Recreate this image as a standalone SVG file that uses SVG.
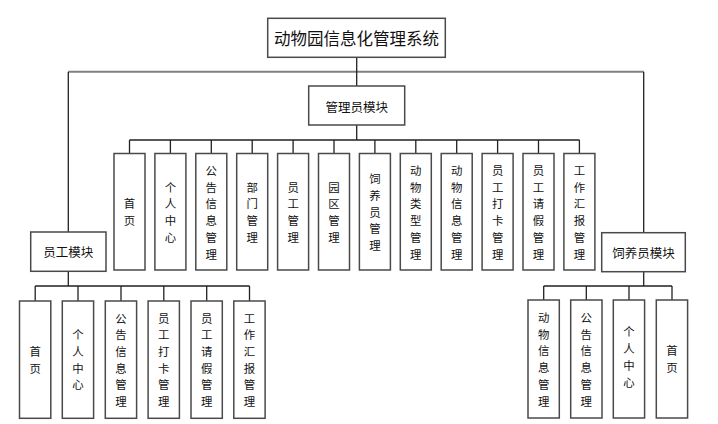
<svg xmlns="http://www.w3.org/2000/svg" width="718" height="424" viewBox="0 0 718 424">
<style>
.box{fill:#fff;stroke:#4a4a4a;stroke-width:1.5}
.ln{fill:none;stroke:#222;stroke-width:1.3}
.gl{fill:none;stroke:#808080;stroke-width:2}
text{font-family:"Noto Sans CJK SC","Noto Sans",sans-serif;fill:#111;text-anchor:middle;dominant-baseline:central}
.t{font-size:16.5px}
.m{font-size:12.5px}
.v{font-size:11.4px}
</style>
<rect width="718" height="424" fill="#fff"/>
<g id="connectors">
<path class="gl" d="M68.3,71.7H643.7"/>
<path class="ln" d="M356.7,57.3V86M68.3,71.7V232M643.7,71.7V232.7M356.7,125V140"/>
<path class="ln" d="M129.5,140H579.5M129.5,140v13.5M170.4,140v13.5M211.3,140v13.5M252.2,140v13.5M293.1,140v13.5M334,140v13.5M374.9,140v13.5M415.8,140v13.5M456.7,140v13.5M497.6,140v13.5M538.5,140v13.5M579.4,140v13.5"/>
<path class="ln" d="M68.3,271.3V286M35.2,286H249.5M35.2,286v15M78,286v15M121,286v15M163.8,286v15M206.7,286v15M249.5,286v15"/>
<path class="ln" d="M643.7,271.7V286M543.7,286H672M543.7,286v14M586.3,286v14M629,286v14M672,286v14"/>
</g>
<g id="n-title"><rect class="box" x="267.7" y="18.3" width="177.6" height="39"/><text class="t" x="356.5" y="38">动物园信息化管理系统</text></g>
<g id="n-admin"><rect class="box" x="308.7" y="86" width="96" height="39"/><text class="m" x="356.7" y="106">管理员模块</text></g>
<g id="n-staff"><rect class="box" x="30.7" y="232" width="75.3" height="39.3"/><text class="m" x="68.3" y="251.7">员工模块</text></g>
<g id="n-keeper"><rect class="box" x="601.7" y="232.7" width="83.6" height="39"/><text class="m" x="643.5" y="252.2">饲养员模块</text></g>

<g id="a1"><rect class="box" x="114" y="153.5" width="31" height="116.5"/><text class="v"><tspan x="129.5" y="203.4">首</tspan><tspan x="129.5" y="220.1">页</tspan></text></g>
<g id="a2"><rect class="box" x="154.9" y="153.5" width="31" height="116.5"/><text class="v"><tspan x="170.4" y="186.7">个</tspan><tspan x="170.4" y="203.4">人</tspan><tspan x="170.4" y="220.1">中</tspan><tspan x="170.4" y="236.8">心</tspan></text></g>
<g id="a3"><rect class="box" x="195.8" y="153.5" width="31" height="116.5"/><text class="v"><tspan x="211.3" y="170">公</tspan><tspan x="211.3" y="186.7">告</tspan><tspan x="211.3" y="203.4">信</tspan><tspan x="211.3" y="220.1">息</tspan><tspan x="211.3" y="236.8">管</tspan><tspan x="211.3" y="253.5">理</tspan></text></g>
<g id="a4"><rect class="box" x="236.7" y="153.5" width="31" height="116.5"/><text class="v"><tspan x="252.2" y="186.7">部</tspan><tspan x="252.2" y="203.4">门</tspan><tspan x="252.2" y="220.1">管</tspan><tspan x="252.2" y="236.8">理</tspan></text></g>
<g id="a5"><rect class="box" x="277.6" y="153.5" width="31" height="116.5"/><text class="v"><tspan x="293.1" y="186.7">员</tspan><tspan x="293.1" y="203.4">工</tspan><tspan x="293.1" y="220.1">管</tspan><tspan x="293.1" y="236.8">理</tspan></text></g>
<g id="a6"><rect class="box" x="318.5" y="153.5" width="31" height="116.5"/><text class="v"><tspan x="334" y="186.7">园</tspan><tspan x="334" y="203.4">区</tspan><tspan x="334" y="220.1">管</tspan><tspan x="334" y="236.8">理</tspan></text></g>
<g id="a7"><rect class="box" x="359.4" y="153.5" width="31" height="116.5"/><text class="v"><tspan x="374.9" y="178.3">饲</tspan><tspan x="374.9" y="195">养</tspan><tspan x="374.9" y="211.7">员</tspan><tspan x="374.9" y="228.4">管</tspan><tspan x="374.9" y="245.1">理</tspan></text></g>
<g id="a8"><rect class="box" x="400.3" y="153.5" width="31" height="116.5"/><text class="v"><tspan x="415.8" y="170">动</tspan><tspan x="415.8" y="186.7">物</tspan><tspan x="415.8" y="203.4">类</tspan><tspan x="415.8" y="220.1">型</tspan><tspan x="415.8" y="236.8">管</tspan><tspan x="415.8" y="253.5">理</tspan></text></g>
<g id="a9"><rect class="box" x="441.2" y="153.5" width="31" height="116.5"/><text class="v"><tspan x="456.7" y="170">动</tspan><tspan x="456.7" y="186.7">物</tspan><tspan x="456.7" y="203.4">信</tspan><tspan x="456.7" y="220.1">息</tspan><tspan x="456.7" y="236.8">管</tspan><tspan x="456.7" y="253.5">理</tspan></text></g>
<g id="a10"><rect class="box" x="482.1" y="153.5" width="31" height="116.5"/><text class="v"><tspan x="497.6" y="170">员</tspan><tspan x="497.6" y="186.7">工</tspan><tspan x="497.6" y="203.4">打</tspan><tspan x="497.6" y="220.1">卡</tspan><tspan x="497.6" y="236.8">管</tspan><tspan x="497.6" y="253.5">理</tspan></text></g>
<g id="a11"><rect class="box" x="523" y="153.5" width="31" height="116.5"/><text class="v"><tspan x="538.5" y="170">员</tspan><tspan x="538.5" y="186.7">工</tspan><tspan x="538.5" y="203.4">请</tspan><tspan x="538.5" y="220.1">假</tspan><tspan x="538.5" y="236.8">管</tspan><tspan x="538.5" y="253.5">理</tspan></text></g>
<g id="a12"><rect class="box" x="563.9" y="153.5" width="31" height="116.5"/><text class="v"><tspan x="579.4" y="170">工</tspan><tspan x="579.4" y="186.7">作</tspan><tspan x="579.4" y="203.4">汇</tspan><tspan x="579.4" y="220.1">报</tspan><tspan x="579.4" y="236.8">管</tspan><tspan x="579.4" y="253.5">理</tspan></text></g>

<g id="s1"><rect class="box" x="19.5" y="301" width="31.3" height="117.3"/><text class="v"><tspan x="35.2" y="351">首</tspan><tspan x="35.2" y="367.7">页</tspan></text></g>
<g id="s2"><rect class="box" x="62.3" y="301" width="31.3" height="117.3"/><text class="v"><tspan x="78" y="334.3">个</tspan><tspan x="78" y="351">人</tspan><tspan x="78" y="367.7">中</tspan><tspan x="78" y="384.4">心</tspan></text></g>
<g id="s3"><rect class="box" x="105.3" y="301" width="31.3" height="117.3"/><text class="v"><tspan x="121" y="317.6">公</tspan><tspan x="121" y="334.3">告</tspan><tspan x="121" y="351">信</tspan><tspan x="121" y="367.7">息</tspan><tspan x="121" y="384.4">管</tspan><tspan x="121" y="401.1">理</tspan></text></g>
<g id="s4"><rect class="box" x="148.1" y="301" width="31.3" height="117.3"/><text class="v"><tspan x="163.8" y="317.6">员</tspan><tspan x="163.8" y="334.3">工</tspan><tspan x="163.8" y="351">打</tspan><tspan x="163.8" y="367.7">卡</tspan><tspan x="163.8" y="384.4">管</tspan><tspan x="163.8" y="401.1">理</tspan></text></g>
<g id="s5"><rect class="box" x="191" y="301" width="31.3" height="117.3"/><text class="v"><tspan x="206.7" y="317.6">员</tspan><tspan x="206.7" y="334.3">工</tspan><tspan x="206.7" y="351">请</tspan><tspan x="206.7" y="367.7">假</tspan><tspan x="206.7" y="384.4">管</tspan><tspan x="206.7" y="401.1">理</tspan></text></g>
<g id="s6"><rect class="box" x="233.8" y="301" width="31.3" height="117.3"/><text class="v"><tspan x="249.5" y="317.6">工</tspan><tspan x="249.5" y="334.3">作</tspan><tspan x="249.5" y="351">汇</tspan><tspan x="249.5" y="367.7">报</tspan><tspan x="249.5" y="384.4">管</tspan><tspan x="249.5" y="401.1">理</tspan></text></g>

<g id="k1"><rect class="box" x="528" y="300" width="31.3" height="118"/><text class="v"><tspan x="543.7" y="317">动</tspan><tspan x="543.7" y="333.7">物</tspan><tspan x="543.7" y="350.4">信</tspan><tspan x="543.7" y="367.1">息</tspan><tspan x="543.7" y="383.8">管</tspan><tspan x="543.7" y="400.5">理</tspan></text></g>
<g id="k2"><rect class="box" x="570.7" y="300" width="31.3" height="118"/><text class="v"><tspan x="586.3" y="317">公</tspan><tspan x="586.3" y="333.7">告</tspan><tspan x="586.3" y="350.4">信</tspan><tspan x="586.3" y="367.1">息</tspan><tspan x="586.3" y="383.8">管</tspan><tspan x="586.3" y="400.5">理</tspan></text></g>
<g id="k3"><rect class="box" x="613.3" y="300" width="31.3" height="118"/><text class="v"><tspan x="629" y="331">个</tspan><tspan x="629" y="348">人</tspan><tspan x="629" y="365">中</tspan><tspan x="629" y="382">心</tspan></text></g>
<g id="k4"><rect class="box" x="656.3" y="300" width="31.3" height="118"/><text class="v"><tspan x="672" y="350">首</tspan><tspan x="672" y="366.7">页</tspan></text></g>
</svg>
